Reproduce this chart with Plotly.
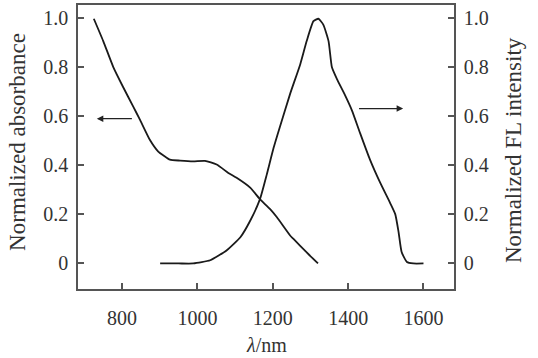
import plotly.graph_objects as go

# Absorbance (left axis)
abs_wl = [725, 750, 777, 803, 830, 848, 874, 896, 910, 927, 954, 989, 1020, 1051, 1082, 1104, 1140, 1166, 1193, 1211, 1246, 1255, 1290, 1320]
abs_val = [0.997, 0.906, 0.799, 0.718, 0.638, 0.584, 0.503, 0.456, 0.440, 0.423, 0.419, 0.416, 0.418, 0.403, 0.369, 0.349, 0.309, 0.262, 0.221, 0.188, 0.114, 0.100, 0.045, 0.0]

# FL intensity (right axis)
fl_wl = [901, 950, 989, 1034, 1078, 1114, 1140, 1166, 1184, 1202, 1219, 1246, 1273, 1290, 1308, 1321, 1334, 1348, 1357, 1370, 1392, 1410, 1432, 1458, 1485, 1511, 1525, 1534, 1542, 1556, 1573, 1600]
fl_val = [0.0, 0.0, 0.0, 0.013, 0.054, 0.107, 0.174, 0.262, 0.362, 0.47, 0.557, 0.691, 0.812, 0.906, 0.987, 0.997, 0.973, 0.906, 0.799, 0.752, 0.685, 0.624, 0.53, 0.423, 0.329, 0.248, 0.201, 0.127, 0.047, 0.006, 0.0, 0.0]

x_ticks = [800, 1000, 1200, 1400, 1600]
y_ticks = [0, 0.2, 0.4, 0.6, 0.8, 1.0]
y_labels = ["0", "0.2", "0.4", "0.6", "0.8", "1.0"]

FONT = "Liberation Serif, Times New Roman, serif"
LINE = "#1a1a1a"
AX = "#555555"

fig = go.Figure()
fig.add_trace(go.Scatter(x=abs_wl, y=abs_val, mode="lines", line=dict(color=LINE, width=1.8, shape="spline", smoothing=0.5), yaxis="y", showlegend=False))
fig.add_trace(go.Scatter(x=fl_wl, y=fl_val, mode="lines", line=dict(color=LINE, width=1.8, shape="spline", smoothing=0.5), yaxis="y2", showlegend=False))

yr = [-0.104, 1.053]
fig.update_layout(
    width=538, height=358,
    margin=dict(l=78, r=84, t=3, b=69),
    paper_bgcolor="white", plot_bgcolor="white",
    font=dict(family=FONT, size=20, color="#333333"),
    xaxis=dict(range=[683, 1681], tickvals=x_ticks, ticks="inside", ticklen=6, tickwidth=1.5,
               tickcolor=AX, showline=True, linecolor=AX, linewidth=1.5, mirror=True,
               showgrid=False, zeroline=False, ticklabelstandoff=10),
    yaxis=dict(range=yr, tickvals=y_ticks, ticktext=y_labels, ticks="inside", ticklen=6, tickwidth=1.5,
               tickcolor=AX, showline=True, linecolor=AX, linewidth=1.5, mirror=True,
               showgrid=False, zeroline=False, ticklabelstandoff=4),
    yaxis2=dict(range=yr, tickvals=y_ticks, ticktext=y_labels, ticks="inside", ticklen=6, tickwidth=1.5,
                tickcolor=AX, showline=True, linecolor=AX, linewidth=1.5, overlaying="y", side="right",
                showgrid=False, zeroline=False, ticklabelstandoff=4),
)

fig.add_annotation(text="Normalized absorbance", xref="paper", yref="paper", x=-0.163, y=0.517,
                   xanchor="center", yanchor="middle", textangle=-90, showarrow=False,
                   font=dict(family=FONT, size=23, color="#333333"))
fig.add_annotation(text="Normalized FL intensity", xref="paper", yref="paper", x=1.16, y=0.49,
                   xanchor="center", yanchor="middle", textangle=-90, showarrow=False,
                   font=dict(family=FONT, size=23, color="#333333"))
fig.add_annotation(text="<i>λ</i>/nm", xref="paper", yref="paper", x=0.5, y=-0.24,
                   xanchor="center", yanchor="bottom", showarrow=False, borderpad=0,
                   font=dict(family=FONT, size=20, color="#333333"))

# arrows
fig.add_annotation(x=733, y=0.59, ax=830, ay=0.59, xref="x", yref="y", axref="x", ayref="y",
                   text="", showarrow=True, arrowhead=2, arrowsize=1, arrowwidth=1.3, arrowcolor="#222222")
fig.add_annotation(x=1546, y=0.631, ax=1425, ay=0.631, xref="x", yref="y", axref="x", ayref="y",
                   text="", showarrow=True, arrowhead=2, arrowsize=1, arrowwidth=1.3, arrowcolor="#222222")

fig.write_html("out.html", config={"displayModeBar": False},
               post_script="document.body.style.margin='0';document.body.style.overflow='hidden';")
